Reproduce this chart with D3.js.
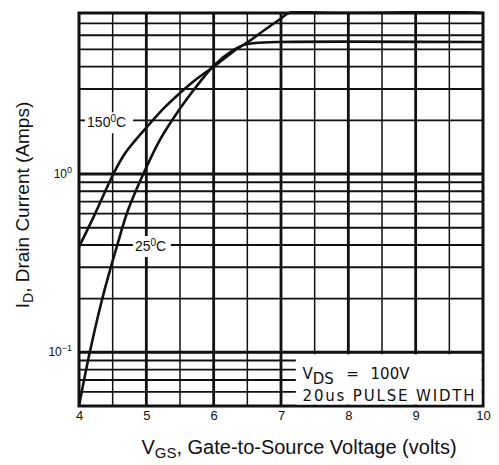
<!DOCTYPE html>
<html lang="en">
<head>
    <meta charset="UTF-8">
    <title>Drain Current vs Gate-to-Source Voltage</title>
    <script src="https://d3js.org/d3.v7.min.js"></script>
    <style>
        body { margin: 0; background: white; }
        text { font-family: "Liberation Sans", Arial, sans-serif; fill: #111; }
        .note { font-family: "DejaVu Sans", sans-serif; font-size: 15px; }
    </style>
</head>
<body>
    <svg width="499" height="465"></svg>

    <script>
        // x ticks (volts) and y decades (amps)
        const vgsTicks = [4, 5, 6, 7, 8, 9, 10];
        const idDecades = [0.1, 1];

        // 150 C curve
        const vgs150 = [4.0, 4.24, 4.51, 4.68, 5.0, 5.25, 5.5, 5.75, 6.0, 6.29, 6.54, 6.75, 7.0, 7.12, 10];
        const id150  = [0.39, 0.60, 1.0, 1.3, 1.82, 2.32, 2.85, 3.42, 4.0, 4.86, 5.6, 6.4, 7.45, 8.0, 8.0];

        // 25 C curve
        const vgs25 = [4.0, 4.16, 4.34, 4.56, 4.73, 4.98, 5.2, 5.43, 5.58, 5.8, 6.0, 6.29, 6.45, 6.6, 6.94, 10];
        const id25  = [0.05, 0.1, 0.196, 0.39, 0.63, 1.05, 1.55, 2.13, 2.57, 3.3, 4.05, 4.95, 5.3, 5.42, 5.5, 5.5];

        const svg = d3.select("svg"),
            margin = {top: 13, right: 16, bottom: 59, left: 79},
            width = +svg.attr("width") - margin.left - margin.right,
            height = +svg.attr("height") - margin.top - margin.bottom;

        const x = d3.scaleLinear().domain([4, 10]).range([0, width]);
        const y = d3.scaleLog().domain([0.05, 8]).range([height, 0]);

        const g = svg.append("g")
            .attr("transform", `translate(${margin.left},${margin.top})`);

        g.append("clipPath").attr("id", "plot")
            .append("rect").attr("x", -2).attr("y", -2).attr("width", width + 4).attr("height", height + 4);

        // horizontal grid
        g.append("g")
            .selectAll("line")
            .data(y.ticks())
            .join("line")
            .attr("x1", 0).attr("x2", width)
            .attr("y1", d => y(d)).attr("y2", d => y(d))
            .attr("stroke", "#111")
            .attr("stroke-width", d => idDecades.includes(d) ? 3 : 1.9);

        // vertical grid
        g.append("g")
            .selectAll("line")
            .data(d3.range(4.5, 10, 0.5))
            .join("line")
            .attr("x1", d => x(d)).attr("x2", d => x(d))
            .attr("y1", 0).attr("y2", height)
            .attr("stroke", "#111")
            .attr("stroke-width", d => Number.isInteger(d) ? 2.8 : 1.5);

        // curves
        const line = d3.line()
            .x(d => x(d[0]))
            .y(d => y(d[1]))
            .curve(d3.curveCatmullRom.alpha(0.5));

        const curves = [d3.zip(vgs150, id150), d3.zip(vgs25, id25)];
        g.append("g")
            .attr("clip-path", "url(#plot)")
            .selectAll("path")
            .data(curves)
            .join("path")
            .attr("d", line)
            .attr("fill", "none")
            .attr("stroke", "#111")
            .attr("stroke-width", 2.6);

        // frame
        g.append("rect")
            .attr("width", width).attr("height", height)
            .attr("fill", "none")
            .attr("stroke", "#111")
            .attr("stroke-width", 3);

        // curve labels on white patches
        function label(xv, yv, num, w) {
            g.append("rect")
                .attr("x", x(xv) - 2).attr("y", y(yv) - 15)
                .attr("width", w).attr("height", 21)
                .attr("fill", "white");
            const t = g.append("text")
                .attr("x", x(xv)).attr("y", y(yv))
                .style("font-size", "14px");
            t.append("tspan").text(num);
            t.append("tspan").attr("dy", -5).style("font-size", "10px").text("0");
            t.append("tspan").attr("dy", 5).text("C");
        }
        label(4.12, 1.83, "150", 48);
        label(4.83, 0.37, "25", 38);

        // conditions box
        g.append("rect")
            .attr("x", x(7.22)).attr("y", y(0.1) + 2)
            .attr("width", x(10) - x(7.22) - 1.5)
            .attr("height", height - y(0.1) - 3.5)
            .attr("fill", "white");
        const vds = g.append("text")
            .attr("class", "note")
            .attr("x", x(7.32)).attr("y", y(0.075) + 4);
        vds.append("tspan").text("V");
        vds.append("tspan").attr("dy", 5).text("DS");
        vds.append("tspan").attr("dy", -5).attr("x", x(7.97)).text("=");
        vds.append("tspan").attr("x", x(8.33)).text("100V");
        g.append("text")
            .attr("class", "note")
            .attr("x", x(7.32)).attr("y", y(0.055) + 2)
            .attr("textLength", 172)
            .attr("lengthAdjust", "spacing")
            .text("20us PULSE WIDTH");

        // x tick labels
        g.append("g")
            .attr("transform", `translate(0,${height})`)
            .call(d3.axisBottom(x).tickValues(vgsTicks).tickSize(0).tickPadding(5).tickFormat(d3.format("d")))
            .call(a => a.select(".domain").remove())
            .selectAll("text").style("font-size", "13px").style("font-family", "Liberation Sans, Arial, sans-serif");

        // y decade labels
        const yl = g.append("g")
            .selectAll("text")
            .data(idDecades)
            .join("text")
            .attr("x", -7)
            .attr("y", d => y(d) + 4)
            .attr("text-anchor", "end")
            .style("font-size", "12px");
        yl.append("tspan").text("10");
        yl.append("tspan").attr("dy", -5).style("font-size", "9px").text(d => Math.round(Math.log10(d)) === 0 ? "0" : "\u22121");

        // axis titles
        const xt = svg.append("text")
            .attr("x", 299)
            .attr("y", 454)
            .attr("text-anchor", "middle")
            .style("font-size", "20px");
        xt.append("tspan").text("V");
        xt.append("tspan").attr("dy", 4).style("font-size", "15px").text("GS");
        xt.append("tspan").attr("dy", -4).text(", Gate-to-Source Voltage (volts)");

        const yt = svg.append("text")
            .attr("transform", "translate(29,205) rotate(-90)")
            .attr("text-anchor", "middle")
            .style("font-size", "19px");
        yt.append("tspan").text("I");
        yt.append("tspan").attr("dy", 4).style("font-size", "14px").text("D");
        yt.append("tspan").attr("dy", -4).text(", Drain Current (Amps)");
    </script>
</body>
</html>
